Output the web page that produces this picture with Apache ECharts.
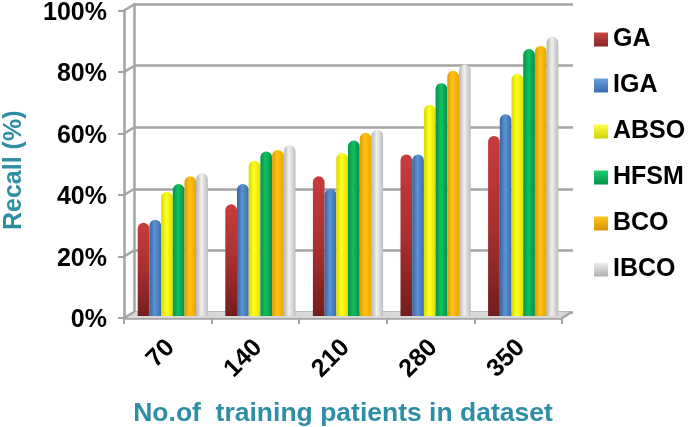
<!DOCTYPE html>
<html><head><meta charset="utf-8">
<style>html,body{margin:0;padding:0;background:#fff}#c{width:688px;height:427px}</style>
<script src="https://cdn.jsdelivr.net/npm/echarts@6/dist/echarts.min.js"></script></head>
<body><div id="c"></div>
<script>
var categories=['70','140','210','280','350'];
var seriesNames=['GA','IGA','ABSO','HFSM','BCO','IBCO'];
var GA=[30,36,45,52,58];
var IGA=[31,42.5,41,52,65];
var ABSO=[40,50,52.5,68,78];
var HFSM=[42.5,53,56.5,75,86];
var BCO=[45,53.5,59,79,87];
var IBCO=[46,55,60,81,90];
var yTicks=[0,20,40,60,80,100];
var values=[GA,IGA,ABSO,HFSM,BCO,IBCO];
var palette=[['#7a1f20','#c23a3a','#8a2424'],['#36659f','#5b93d6','#3a6ca8'],['#d8d800','#ffff20','#e0e000'],['#05924a','#12c060','#059048'],['#e09a00','#ffc414','#e8a400'],['#b4b4b4','#f0f0f0','#bcbcbc']];
var legendColors=[['#c84848','#8a2626'],['#6a9fe0','#3a6ca8'],['#ffff50','#d0d000'],['#20d070','#059048'],['#ffc820','#d89000'],['#f0f0f0','#b0b0b0']];
var chart=echarts.init(document.getElementById('c'),null,{renderer:'canvas'});
var DX=10,DY=-6,gray='#a3a3a3';
function grad(p,i){
 if(i===0) return {type:'linear',x:0,y:0,x2:0,y2:1,colorStops:[{offset:0,color:'#c83c3c'},{offset:.5,color:'#a83030'},{offset:1,color:'#741d1d'}]};
 return {type:'linear',x:0,y:0,x2:1,y2:0,colorStops:[{offset:0,color:p[0]},{offset:.45,color:p[1]},{offset:1,color:p[2]}]};}
function vgrad(c){return {type:'linear',x:0,y:0,x2:0,y2:1,colorStops:[{offset:0,color:c[0]},{offset:1,color:c[1]}]};}
var bars=values.map(function(v,i){return {name:seriesNames[i],type:'bar',xAxisIndex:2,yAxisIndex:2,data:v,barWidth:11.7,barGap:'0%',z:5,
  itemStyle:{color:grad(palette[i],i),borderRadius:[6,6,0,0]},emphasis:{disabled:true}};});
var frame={type:'custom',xAxisIndex:0,yAxisIndex:0,data:yTicks.map(function(t){return [0,t];}),z:1,silent:true,clip:false,
 renderItem:function(params,api){
  var v=api.value(1),p0=api.coord([0,v]),pN=api.coord([categories.length-1,v]),h=api.size([1,0])[0]/2;
  var L=p0[0]-h,R=pN[0]+h,y=p0[1],ch=[];
  var ls={stroke:gray,lineWidth:2.5};
  ch.push({type:'line',shape:{x1:L,y1:y,x2:L+DX,y2:y+DY},style:ls});
  if(v===0){
   ch.unshift({type:'polygon',shape:{points:[[L,y],[L+DX,y+DY],[R+DX,y+DY],[R,y]]},style:{fill:'#d8d8d8'}});
   ch.push({type:'line',shape:{x1:R,y1:y,x2:R+DX,y2:y+DY},style:ls});
  }
  return {type:'group',children:ch};
 }};
var labelStyle={fontSize:25,fontWeight:'bold',color:'#000',fontFamily:'Liberation Sans'};
var option={
 animation:false,
 textStyle:{fontFamily:'Liberation Sans, Arial, sans-serif'},
 legend:{orient:'vertical',left:589,top:22,itemWidth:14,itemHeight:14,itemGap:21,selectedMode:false,
  data:seriesNames.map(function(n,i){return {name:n,itemStyle:{color:vgrad(legendColors[i])},icon:'rect'};}),
  textStyle:{fontSize:25,fontWeight:'bold',color:'#000'}},
 grid:[{left:124,width:438,top:10.5,height:307.5,outerBoundsMode:'none'},{left:134,width:439,top:4,height:308,outerBoundsMode:'none'},{left:129,width:438,top:5.5,height:310.5,outerBoundsMode:'none'}],
 xAxis:[
  {gridIndex:0,type:'category',data:categories,name:'No.of  training patients in dataset',nameLocation:'middle',nameGap:82,
   nameTextStyle:{fontSize:26.5,fontWeight:'bold',color:'#2e8ea3',fontFamily:'Liberation Sans'},
   axisLine:{show:true,lineStyle:{color:gray,width:2.5}},axisTick:{show:true,length:6,alignWithLabel:false,lineStyle:{color:gray,width:2}},
   axisLabel:{rotate:45,formatter:'{a|{value}}',rich:{a:Object.assign({padding:[8,0,0,0]},labelStyle)},fontSize:25,margin:23,interval:0}},
  {gridIndex:1,type:'category',data:categories,axisLine:{show:false},axisTick:{show:false},axisLabel:{show:false}},
  {gridIndex:2,type:'category',data:categories,axisLine:{show:false},axisTick:{show:false},axisLabel:{show:false}}
 ],
 yAxis:[
  {gridIndex:0,type:'value',min:0,max:100,interval:20,name:'Recall (%)',nameLocation:'middle',nameGap:97,nameRotate:90,
   nameTextStyle:{fontSize:25,fontWeight:'bold',color:'#2e8ea3',padding:[0,12,0,0]},
   axisLine:{show:true,lineStyle:{color:gray,width:2.5}},axisTick:{show:true,length:6,lineStyle:{color:gray,width:2}},splitLine:{show:false},
   axisLabel:{formatter:'{a|{value}%}',rich:{a:Object.assign({padding:[5,0,0,0]},labelStyle)},fontSize:25,margin:17}},
  {gridIndex:1,type:'value',min:0,max:100,interval:20,axisLine:{show:true,lineStyle:{color:gray,width:2.5}},axisTick:{show:false},axisLabel:{show:false},
   splitLine:{show:true,lineStyle:{color:gray,width:2.5}}},
  {gridIndex:2,type:'value',min:0,max:100,interval:20,axisLine:{show:false},axisTick:{show:false},axisLabel:{show:false},splitLine:{show:false}}
 ],
 series:[frame].concat(bars)
};
chart.setOption(option);
</script></body></html>
